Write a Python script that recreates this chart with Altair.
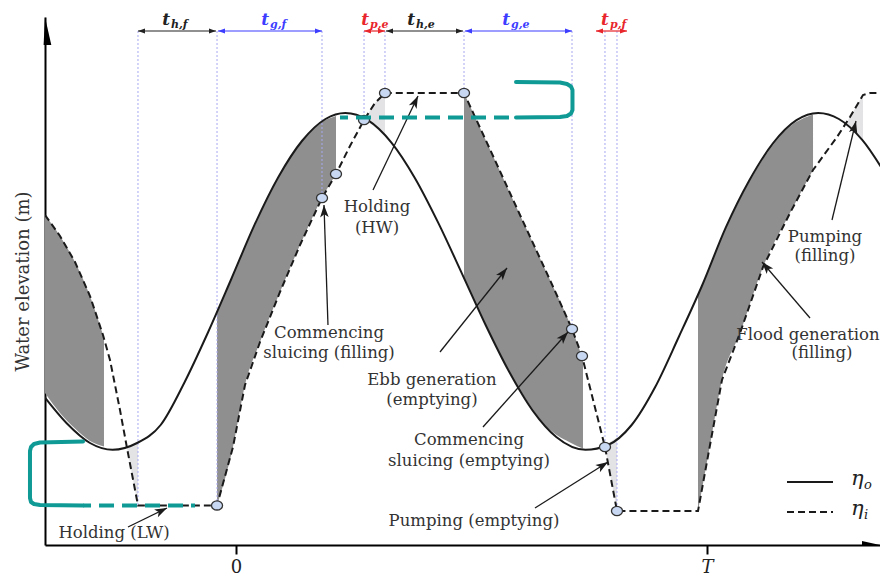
import math
import altair as alt
import pandas as pd

# ---------------- data (time in units of tidal period T, elevation in m) ----------------
solid_t = [-0.41, -0.36, -0.31, -0.262, -0.21, -0.16, -0.11, -0.06, -0.01, 0.04, 0.09, 0.14,
           0.19, 0.232, 0.28, 0.33, 0.38, 0.43, 0.48, 0.53, 0.58, 0.63, 0.68, 0.742, 0.79,
           0.84, 0.89, 0.94, 0.99, 1.04, 1.09, 1.14, 1.19, 1.236, 1.28, 1.33, 1.38]
solid_eta = [-2.85, -3.55, -4.05, -4.22, -4.05, -3.60, -2.55, -1.30, 0.05, 1.42, 2.60, 3.50,
             4.05, 4.20, 4.02, 3.46, 2.57, 1.44, 0.18, -1.10, -2.27, -3.24, -3.90, -4.22, -4.10,
             -3.60, -2.65, -1.40, -0.10, 1.34, 2.52, 3.44, 4.02, 4.20, 4.05, 3.52, 2.65]

dash_t = [-0.4055, -0.3737, -0.3418, -0.3100, -0.2824, -0.2675, -0.2463, -0.2314, -0.2081,
          -0.0403, -0.0064, 0.0191, 0.0510, 0.0934, 0.1359, 0.1826, 0.2123, 0.2420, 0.2718,
          0.2951, 0.3163, 0.4841, 0.5393, 0.6030, 0.6667, 0.7134, 0.7346, 0.7834, 0.8089,
          0.9809, 1.0064, 1.0318, 1.0701, 1.1189, 1.1762, 1.2251, 1.2760, 1.3036, 1.3312,
          1.3461, 1.3673]
dash_eta = [1.65, 1.125, 0.475, -0.375, -1.35, -1.975, -3.225, -4.175, -5.61,
            -5.61, -4.15, -2.60, -1.525, -0.275, 0.90, 2.075, 2.675, 3.375, 4.025,
            4.45, 4.70, 4.70, 3.29, 1.65, 0.025, -1.20, -1.875, -4.15, -5.75,
            -5.75, -4.10, -2.475, -1.30, 0.35, 1.70, 2.775, 3.60, 4.10, 4.65,
            4.70, 4.70]

# generation (dark grey) regions: time, upper and lower boundary
gen_l_t = [-0.4055, -0.3737, -0.3418, -0.3100, -0.2803]
gen_l_top = [1.65, 1.125, 0.475, -0.375, -1.425]
gen_l_bot = [-2.80, -3.30, -3.69, -4.00, -4.14]
gen_f1_t = [-0.0403, -0.0064, 0.0191, 0.0510, 0.0934, 0.1359, 0.1826, 0.2123]
gen_f1_top = [-0.78, 0.15, 0.85, 1.675, 2.66, 3.43, 3.975, 4.125]
gen_f1_bot = [-5.61, -4.15, -2.60, -1.525, -0.275, 0.90, 2.075, 2.675]
gen_e_t = [0.4841, 0.5393, 0.6030, 0.6667, 0.7134, 0.7367]
gen_e_top = [4.70, 3.29, 1.65, 0.025, -1.20, -1.97]
gen_e_bot = [0.075, -1.32, -2.72, -3.72, -4.06, -4.19]
gen_f2_t = [0.9809, 1.0064, 1.0318, 1.0701, 1.1189, 1.1762, 1.2251]
gen_f2_top = [-0.34, 0.37, 1.10, 2.05, 3.05, 3.86, 4.16]
gen_f2_bot = [-5.75, -4.10, -2.475, -1.30, 0.35, 1.70, 2.775]

# pumping (light grey) regions
pump_a_t = [-0.2314, -0.2081]
pump_a_top = [-4.175, -4.05]
pump_a_bot = [-4.175, -5.61]
pump_b_t = [0.2718, 0.2951, 0.3163]
pump_b_top = [4.025, 4.45, 4.70]
pump_b_bot = [4.05, 3.85, 3.61]
pump_c_t = [0.7834, 0.8089]
pump_c_top = [-4.115, -3.91]
pump_c_bot = [-4.15, -5.75]
pump_d_t = [1.2930, 1.3036, 1.3312]
pump_d_top = [3.91, 4.10, 4.65]
pump_d_bot = [3.91, 3.80, 3.50]

# phase-change instants (dotted guides) and their end on the curves
guide_t = [-0.2081, -0.0403, 0.1826, 0.2718, 0.3163, 0.4841, 0.7134, 0.7834, 0.8089]
guide_end = [-5.61, -5.61, 2.075, 4.025, 4.70, 4.70, -1.20, -4.15, -5.75]
guide_level = 6.25

# markers on the inner water level
mark_t = [-0.0403, 0.1826, 0.2123, 0.2718, 0.3163, 0.4841, 0.7134, 0.7346, 0.7834, 0.8089]
mark_eta = [-5.61, 2.075, 2.675, 4.025, 4.70, 4.70, -1.20, -1.875, -4.15, -5.75]

# duration arrows at the top
span_kind = ['h', 'g', 'p', 'h', 'g', 'p']
span_x1 = [-0.2081, -0.0382, 0.2718, 0.3185, 0.4862, 0.7643]
span_x2 = [-0.0425, 0.1826, 0.3163, 0.4820, 0.7134, 0.8301]
span_label_x = [-0.1295, 0.0807, 0.2930, 0.3907, 0.5924, 0.8025]
span_sub = ['h,f', 'g,f', 'p,e', 'h,e', 'g,e', 'p,f']
span_level = 6.25
span_label_level = 6.40

# annotations
ann_text = ["Holding (LW)", "Commencing", "sluicing (filling)", "Holding", "(HW)",
            "Ebb generation", "(emptying)", "Commencing", "sluicing (emptying)",
            "Pumping (emptying)", "Pumping", "(filling)", "Flood generation", "(filling)"]
ann_x = [-0.2590, 0.1975, 0.1975, 0.2994, 0.2994, 0.4161, 0.4161, 0.4947, 0.4947,
         0.5053, 1.2505, 1.2505, 1.2144, 1.2442]
ann_y = [-6.30, -1.30, -1.80, 1.85, 1.325, -2.475, -2.975, -3.975, -4.50, -6.00,
         1.10, 0.625, -1.35, -1.80]
arr_x1 = [-0.2293, 0.1953, 0.2909, 0.4331, 0.5244, 0.6348, 1.2654, 1.2187]
arr_y1 = [-6.15, -1.10, 2.275, -1.775, -3.65, -5.675, 1.525, -0.925]
arr_x2 = [-0.1465, 0.1868, 0.3864, 0.5754, 0.7049, 0.7898, 1.3163, 1.1168]
arr_y2 = [-5.675, 1.90, 4.625, 0.325, -1.275, -4.525, 4.00, 0.475]

# teal hand-drawn brackets
teal_hw_x = [0.5945, 0.6879, 0.7028, 0.7113, 0.7144, 0.7144, 0.7113, 0.7028, 0.6879, 0.5945]
teal_hw_y = [4.975, 4.9625, 4.925, 4.8625, 4.775, 4.275, 4.1875, 4.125, 4.10, 4.0875]
teal_hw_dash_x = [0.2208, 0.5945]
teal_hw_dash_y = 4.0875
teal_lw_x = [-0.3248, -0.4161, -0.4289, -0.4352, -0.4374, -0.4374, -0.4352, -0.4289, -0.4161, -0.3248]
teal_lw_y = [-4.0125, -4.0375, -4.075, -4.15, -4.25, -5.425, -5.525, -5.575, -5.60, -5.6125]
teal_lw_dash_x = [-0.3248, -0.0870]
teal_lw_dash_y = -5.6125

# ---------------- layout ----------------
X_MIN, X_MAX = -0.40552, 1.36730
Y_MIN, Y_MAX = -6.6, 6.6
W, H = 835, 528
KX = W / (X_MAX - X_MIN)
KY = H / (Y_MAX - Y_MIN)

FONT = "DejaVu Serif"
INK = "#1a1a1a"
TEAL = "#0f9a96"
HEAD = "M0,0L0.7,2L0,1.5L-0.7,2Z"
HEAD_SMALL = "M0,0L0.9,2.4L-0.9,2.4Z"
ELLIPSE = "M-1.2,0A1.2,1,0,1,0,1.2,0A1.2,1,0,1,0,-1.2,0Z"

xs = alt.Scale(domain=[X_MIN, X_MAX], nice=False, zero=False)
ys = alt.Scale(domain=[Y_MIN, Y_MAX], nice=False, zero=False)

x_axis = alt.Axis(values=[0, 1], labelExpr="datum.value == 0 ? '0' : 'T'", title=None,
                  grid=False, domainColor="black", domainWidth=2, tickColor="black",
                  tickWidth=2, tickSize=9, labelFont=FONT, labelFontSize=18,
                  labelColor="#222222", labelPadding=4,
                  labelFontStyle={"condition": {"test": "datum.value == 1", "value": "italic"},
                                  "value": "normal"})
y_axis = alt.Axis(ticks=False, labels=False, grid=False, tickCount=0,
                  title="Water elevation (m)", titleFont=FONT, titleFontSize=18,
                  titleFontWeight="normal", titleColor="#333333", titleAngle=270,
                  titleX=-22, titleY=264, titleAlign="center", titleBaseline="middle",
                  domainColor="black", domainWidth=2)


def X(f="x"):
    return alt.X(f"{f}:Q", scale=xs, axis=x_axis)


def Y(f="y"):
    return alt.Y(f"{f}:Q", scale=ys, axis=y_axis, stack=None)


def head_angle(x1, y1, x2, y2):
    dxp = (x2 - x1) * KX
    dyp = -(y2 - y1) * KY
    return math.degrees(math.atan2(dxp, -dyp)) % 360


def region(name, t, top, bot):
    return pd.DataFrame({"x": t, "y": top, "y2": bot, "r": name})


dark_df = pd.concat([
    region("L", gen_l_t, gen_l_top, gen_l_bot),
    region("F1", gen_f1_t, gen_f1_top, gen_f1_bot),
    region("E", gen_e_t, gen_e_top, gen_e_bot),
    region("F2", gen_f2_t, gen_f2_top, gen_f2_bot),
])
light_df = pd.concat([
    region("A", pump_a_t, pump_a_top, pump_a_bot),
    region("B", pump_b_t, pump_b_top, pump_b_bot),
    region("C", pump_c_t, pump_c_top, pump_c_bot),
    region("D", pump_d_t, pump_d_top, pump_d_bot),
])

dark = alt.Chart(dark_df).mark_area(color="#8f8f8f", interpolate="monotone", clip=True).encode(
    x=X(), y=Y(), y2="y2:Q", detail="r:N")
light = alt.Chart(light_df).mark_area(color="#e3e3e6", clip=True).encode(
    x=X(), y=Y(), y2="y2:Q", detail="r:N")

guide_df = pd.DataFrame({"x": guide_t, "y": [guide_level] * len(guide_t), "y2": guide_end})
guides = alt.Chart(guide_df).mark_rule(color="#a8a8f2", strokeDash=[2, 2], strokeWidth=1).encode(
    x=X(), y=Y(), y2="y2:Q")

solid_df = pd.DataFrame({"x": solid_t, "y": solid_eta})
solid = alt.Chart(solid_df).mark_line(color=INK, strokeWidth=2, interpolate="monotone",
                                      clip=True).encode(x=X(), y=Y())

dash_df = pd.DataFrame({"x": dash_t, "y": dash_eta})
dashed = alt.Chart(dash_df).mark_line(color=INK, strokeWidth=2, strokeDash=[7, 4],
                                      clip=True).encode(x=X(), y=Y())

mark_df = pd.DataFrame({"x": mark_t, "y": mark_eta})
markers = alt.Chart(mark_df).mark_point(shape=ELLIPSE, filled=True, fill="#c8d8f2",
                                        stroke="#333333", strokeWidth=1.3, size=85,
                                        opacity=1).encode(x=X(), y=Y())

kind_scale = alt.Scale(domain=["h", "g", "p"], range=["#222222", "#3d3dff", "#e8262c"])
label_scale = alt.Scale(domain=["h", "g", "p"], range=["#3c3c3c", "#4848d0", "#e03a40"])

span_df = pd.DataFrame({"x1": span_x1, "x2": span_x2, "y": [span_level] * 6, "k": span_kind})
spans = alt.Chart(span_df).mark_rule(strokeWidth=1.2).encode(
    x=X("x1"), x2="x2:Q", y=Y(), color=alt.Color("k:N", scale=kind_scale, legend=None))
span_heads_df = pd.DataFrame({
    "x": span_x1 + span_x2,
    "y": [span_level] * 12,
    "a": [270] * 6 + [90] * 6,
    "k": span_kind + span_kind,
})
span_heads = alt.Chart(span_heads_df).mark_point(shape=HEAD_SMALL, filled=True, size=34,
                                                 opacity=1, strokeWidth=0).encode(
    x=X(), y=Y(), angle=alt.Angle("a:Q", scale=None),
    color=alt.Color("k:N", scale=kind_scale, legend=None))
lab_df = pd.DataFrame({"x": span_label_x, "y": [span_label_level] * 6, "sub": span_sub,
                       "k": span_kind, "t": ["t"] * 6})
lab_t = alt.Chart(lab_df).mark_text(font=FONT, fontStyle="italic", fontWeight="bold",
                                    fontSize=17, align="right", baseline="alphabetic",
                                    dx=-5).encode(
    x=X(), y=Y(), text="t:N", color=alt.Color("k:N", scale=label_scale, legend=None))
lab_sub = alt.Chart(lab_df).mark_text(font=FONT, fontStyle="italic", fontWeight="bold",
                                      fontSize=11, align="left", baseline="alphabetic",
                                      dx=-4, dy=3).encode(
    x=X(), y=Y(), text="sub:N", color=alt.Color("k:N", scale=label_scale, legend=None))

ann_df = pd.DataFrame({"x": ann_x, "y": ann_y, "text": ann_text})
ann = alt.Chart(ann_df).mark_text(font=FONT, fontSize=16.5, color="#333333", align="center",
                                  baseline="middle").encode(x=X(), y=Y(), text="text:N")

arr_df = pd.DataFrame({"x": arr_x1, "y": arr_y1, "x2": arr_x2, "y2": arr_y2})
arrows = alt.Chart(arr_df).mark_rule(color=INK, strokeWidth=1.3).encode(
    x=X(), y=Y(), x2="x2:Q", y2="y2:Q")
arr_head_df = pd.DataFrame({
    "x": arr_x2, "y": arr_y2,
    "a": [head_angle(a, b, c, d) for a, b, c, d in zip(arr_x1, arr_y1, arr_x2, arr_y2)],
})
arrow_heads = alt.Chart(arr_head_df).mark_point(shape=HEAD, filled=True, size=150, opacity=1,
                                                color=INK, strokeWidth=0).encode(
    x=X(), y=Y(), angle=alt.Angle("a:Q", scale=None))

one = pd.DataFrame({"a": [0]})
leg_solid = alt.Chart(one).mark_rule(color=INK, strokeWidth=2).encode(
    x=alt.value(742), x2=alt.value(788), y=alt.value(465))
leg_dash = alt.Chart(one).mark_rule(color=INK, strokeWidth=2, strokeDash=[7, 4]).encode(
    x=alt.value(742), x2=alt.value(788), y=alt.value(495))
leg_eta_o = alt.Chart(one).mark_text(text="η", font=FONT, fontStyle="italic", fontSize=21,
                                     align="left", baseline="alphabetic", color="#222222").encode(
    x=alt.value(806), y=alt.value(468))
leg_sub_o = alt.Chart(one).mark_text(text="o", font=FONT, fontStyle="italic", fontSize=13,
                                     align="left", baseline="alphabetic", color="#222222").encode(
    x=alt.value(819), y=alt.value(472))
leg_eta_i = alt.Chart(one).mark_text(text="η", font=FONT, fontStyle="italic", fontSize=21,
                                     align="left", baseline="alphabetic", color="#222222").encode(
    x=alt.value(806), y=alt.value(498))
leg_sub_i = alt.Chart(one).mark_text(text="i", font=FONT, fontStyle="italic", fontSize=13,
                                     align="left", baseline="alphabetic", color="#222222").encode(
    x=alt.value(819), y=alt.value(502))

teal_df = pd.concat([
    pd.DataFrame({"x": teal_hw_x, "y": teal_hw_y, "i": range(len(teal_hw_x)), "g": "hw"}),
    pd.DataFrame({"x": teal_lw_x, "y": teal_lw_y, "i": range(len(teal_lw_x)), "g": "lw"}),
])
teal = alt.Chart(teal_df).mark_line(color=TEAL, strokeWidth=4, strokeJoin="round",
                                    strokeCap="round").encode(
    x=X(), y=Y(), order="i:Q", detail="g:N")
teal_dash_df = pd.DataFrame({
    "x": [teal_hw_dash_x[0], teal_lw_dash_x[0]],
    "x2": [teal_hw_dash_x[1], teal_lw_dash_x[1]],
    "y": [teal_hw_dash_y, teal_lw_dash_y],
})
teal_dash = alt.Chart(teal_dash_df).mark_rule(color=TEAL, strokeWidth=4, strokeDash=[15, 8],
                                              strokeDashOffset=7).encode(
    x=X(), x2="x2:Q", y=Y())

y_head = alt.Chart(one).mark_point(shape="M0,0L0.9,4L-0.2,4Z", filled=True, color="black",
                                   size=196, opacity=1, strokeWidth=0).encode(
    x=alt.value(0), y=alt.value(0))
x_head = alt.Chart(one).mark_point(shape="M0,0L0.2,4L-0.9,4Z", filled=True, color="black",
                                   size=81, opacity=1, strokeWidth=0, angle=90).encode(
    x=alt.value(W), y=alt.value(H))

chart = alt.layer(
    dark, light, guides, solid, dashed, markers, spans, span_heads, lab_t, lab_sub,
    arrows, arrow_heads, ann, leg_solid, leg_dash, leg_eta_o, leg_sub_o, leg_eta_i, leg_sub_i,
    teal, teal_dash, y_head, x_head,
).properties(
    width=W, height=H,
    padding={"left": 37, "top": 9, "right": 0, "bottom": 36},
    autosize=alt.AutoSizeParams(type="none"),
    background="white",
).configure_view(stroke=None)

chart.save("out.html", embed_options={"renderer": "svg", "actions": False})
